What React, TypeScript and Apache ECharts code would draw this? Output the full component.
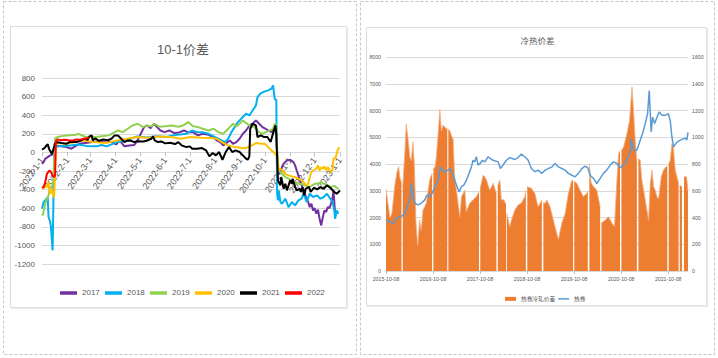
import React, { useEffect, useRef } from 'react';
import * as echarts from 'echarts';

// ---------- Left chart: 10-1价差 (dates of 2022, "M-D" or full "YYYY-M-D") ----------
const seriesNames = ['2017', '2018', '2019', '2020', '2021', '2022'];
const seriesColors = ['#7030A0', '#00B0F0', '#92D050', '#FFC000', '#000000', '#FF0000'];
const yTicksLeft = { min: -1200, max: 800, step: 200 };

const s2017: [string, number][] = [['1-1',-122],['1-3',-104],['1-5',-68],['1-8',-50],['1-11',-32],['1-15',-20],['1-17',75],['1-24',65],['1-31',57],['2-6',40],['2-16',93],['3-4',111],['3-21',129],['3-27',111],['4-2',86],['4-6',129],['4-12',65],['4-18',75],['4-24',80],['4-28',129],['5-2',201],['5-6',272],['5-10',290],['5-14',260],['5-18',308],['5-22',272],['5-26',236],['5-31',218],['6-6',236],['6-12',208],['6-18',215],['6-24',236],['6-28',218],['7-5',218],['7-11',183],['7-17',200],['7-24',190],['7-30',165],['8-3',129],['8-7',111],['8-11',75],['8-15',100],['8-19',129],['8-23',93],['8-27',111],['8-31',147],['9-4',200],['9-8',236],['9-12',290],['9-16',308],['9-20',344],['9-24',308],['9-28',272],['10-2',254],['10-5',236],['10-9',218],['10-13',254],['10-15',183],['10-17',-194],['10-18',-230],['10-20',-211],['10-22',-158],['10-24',-122],['10-28',-86],['11-1',-79],['11-5',-104],['11-7',-140],['11-9',-194],['11-11',-247],['11-13',-301],['11-15',-355],['11-17',-391],['11-19',-444],['11-21',-498],['11-23',-534],['11-25',-588],['11-27',-552],['11-29',-624],['12-1',-600],['12-3',-659],['12-5',-615],['12-7',-713],['12-9',-785],['12-11',-695],['12-13',-624],['12-15',-640],['12-17',-588],['12-19',-600],['12-21',-552],['12-23',-480],['12-24',-408],['12-26',-659]];
const s2018: [string, number][] = [['1-1',-605],['1-3',-534],['1-5',-516],['1-8',-480],['1-9',-695],['1-11',-749],['1-12',-803],['1-14',-1053],['1-16',40],['1-19',60],['1-24',70],['1-31',68],['2-9',80],['2-15',86],['2-24',70],['3-9',65],['3-15',80],['3-21',65],['4-3',111],['4-15',129],['4-27',172],['5-10',160],['5-20',175],['6-3',165],['6-10',183],['6-27',201],['7-4',236],['7-10',218],['7-16',218],['7-24',200],['8-1',165],['8-9',129],['8-13',111],['8-17',147],['8-21',218],['8-25',272],['8-29',326],['9-4',380],['9-8',416],['9-12',398],['9-16',451],['9-20',505],['9-22',595],['9-26',638],['10-2',659],['10-5',667],['10-9',685],['10-11',720],['10-13',577],['10-15',560],['10-16',-444],['10-17',-516],['10-18',-408],['10-20',-534],['10-22',-552],['10-26',-498],['10-30',-588],['11-3',-534],['11-7',-570],['11-11',-516],['11-15',-498],['11-17',-444],['11-19',-480],['11-21',-534],['11-25',-444],['11-29',-480],['12-4',-462],['12-8',-498],['12-12',-480],['12-16',-444],['12-20',-498],['12-23',-534],['12-25',-624],['12-26',-713],['12-28',-624],['12-30',-659]];
const s2019: [string, number][] = [['1-1',-659],['1-2',-677],['1-5',-552],['1-9',-462],['1-10',-408],['1-13',-391],['1-15',-283],['1-17',150],['1-20',165],['1-31',183],['2-12',190],['2-14',200],['2-24',165],['3-8',165],['3-24',183],['4-4',237],['4-10',218],['4-16',254],['4-22',290],['4-28',308],['5-5',272],['5-9',290],['5-15',280],['5-19',308],['5-25',275],['6-1',280],['6-9',290],['6-17',275],['6-23',290],['6-29',326],['7-5',280],['7-11',272],['7-17',254],['7-24',236],['7-30',254],['8-5',218],['8-11',201],['8-15',236],['8-19',272],['8-23',308],['8-27',280],['8-31',308],['9-4',344],['9-8',315],['9-12',290],['9-18',272],['9-24',218],['9-28',200],['10-2',218],['10-7',236],['10-11',254],['10-13',308],['10-15',290],['10-17',-211],['10-18',-194],['10-22',-230],['10-26',-265],['10-30',-283],['11-3',-301],['11-7',-319],['11-11',-337],['11-15',-340],['11-19',-355],['11-23',-373],['11-27',-360],['12-1',-337],['12-5',-335],['12-9',-319],['12-13',-340],['12-17',-355],['12-21',-373],['12-25',-360],['12-30',-391]];
const s2020: [string, number][] = [['1-1',-373],['1-3',-391],['1-5',-355],['1-7',-373],['1-9',-319],['1-11',-444],['1-13',-391],['1-15',-480],['1-16',-462],['1-18',100],['1-31',93],['2-21',129],['3-4',111],['3-21',100],['4-3',129],['4-15',147],['4-27',165],['5-11',158],['5-22',172],['6-8',165],['6-20',147],['7-2',165],['7-15',158],['7-27',155],['8-3',147],['8-9',111],['8-17',75],['8-25',57],['9-1',50],['9-7',45],['9-14',70],['9-20',100],['9-26',93],['10-1',93],['10-5',57],['10-9',22],['10-13',-7],['10-15',-32],['10-17',-86],['10-18',-194],['10-19',-176],['10-23',-194],['10-26',-230],['10-30',-247],['11-3',-258],['11-7',-265],['11-11',-283],['11-15',-301],['11-17',-319],['11-19',-337],['11-21',-355],['11-23',-340],['11-25',-265],['11-27',-211],['11-29',-194],['12-3',-176],['12-5',-140],['12-7',-194],['12-9',-158],['12-11',-175],['12-13',-150],['12-15',-194],['12-17',-158],['12-19',-190],['12-21',-211],['12-23',-180],['12-24',-68],['12-27',-50],['12-29',22],['12-31',57]];
const s2021: [string, number][] = [['1-1',30],['1-4',45],['1-7',80],['1-8',86],['1-10',30],['1-13',-15],['1-14',5],['1-17',97],['1-20',110],['1-25',100],['1-31',93],['2-5',115],['2-12',111],['2-17',125],['2-22',147],['2-26',135],['2-28',172],['3-3',183],['3-4',129],['3-7',150],['3-12',125],['3-17',140],['3-22',130],['3-27',147],['3-31',183],['4-4',183],['4-8',147],['4-12',111],['4-16',129],['4-20',125],['4-24',111],['4-28',120],['5-5',118],['5-9',125],['5-15',147],['5-17',172],['5-19',129],['5-23',111],['5-27',118],['6-1',97],['6-7',104],['6-13',90],['6-17',111],['6-21',75],['6-27',57],['7-1',65],['7-4',40],['7-10',40],['7-16',47],['7-21',22],['7-25',-43],['7-29',-7],['8-2',-32],['8-6',4],['8-10',-79],['8-14',4],['8-18',57],['8-22',4],['8-26',22],['8-31',4],['9-4',-32],['9-8',-68],['9-10',-79],['9-12',-43],['9-13',254],['9-16',308],['9-20',290],['9-22',165],['9-26',183],['9-30',165],['10-4',165],['10-8',111],['10-12',237],['10-14',290],['10-15',200],['10-17',-301],['10-18',-319],['10-20',-355],['10-21',-265],['10-24',-391],['10-26',-337],['10-28',-408],['10-30',-355],['11-1',-301],['11-3',-337],['11-4',-283],['11-7',-370],['11-9',-408],['11-13',-391],['11-14',-426],['11-16',-373],['11-18',-462],['11-20',-391],['11-24',-370],['11-26',-426],['11-30',-380],['12-4',-398],['12-8',-373],['12-12',-391],['12-16',-355],['12-20',-380],['12-25',-426],['12-28',-444],['2023-1-1',-410]];
const s2022: [string, number][] = [['1-1',-380],['1-3',-373],['1-5',-320],['1-7',-230],['1-10',-195],['1-12',-210],['1-14',-250],['1-16',-265],['1-17',-250],['1-18',120],['1-20',140],['1-24',130],['1-28',135],['2-3',130],['2-8',128],['2-12',140],['2-16',135],['2-20',145],['2-24',150],['2-28',160]];
const leftSeriesData = [s2017, s2018, s2019, s2020, s2021, s2022];

// ---------- Right chart: 冷热价差 ----------
const rightSeriesNames = ['热卷冷轧价差', '热卷'];
const rightColors = ['#ED7D31', '#5B9BD5'];
const xStartDate = '2015-10-08';
const xEndDate = '2022-03-10';
const yearTickLabels = ['2015-10-08', '2016-10-08', '2017-10-08', '2018-10-08', '2019-10-08', '2020-10-08', '2021-10-08'];

// spread (right axis, 0-1600); null = no trading (holiday gap)
const spreadData: [string, number | null][] = [['2015-10-08',612],['2015-10-23',508],['2015-11-08',396],['2015-11-23',432],['2015-12-14',630],['2016-01-01',740],['2016-01-14',780],['2016-01-24',700],['2016-02-05',660],['2016-02-10',null],['2016-02-15',630],['2016-03-03',900],['2016-03-13',1100],['2016-03-26',998],['2016-04-11',850],['2016-04-21',826],['2016-05-04',966],['2016-05-16',778],['2016-05-28',358],['2016-06-10',190],['2016-06-25',380],['2016-07-08',304],['2016-07-21',454],['2016-08-16',508],['2016-09-11',680],['2016-09-30',730],['2016-10-04',null],['2016-10-10',760],['2016-10-23',780],['2016-11-02',854],['2016-11-16',1028],['2016-11-29',1208],['2016-12-11',1048],['2016-12-24',1090],['2017-01-07',1076],['2017-01-19',1062],['2017-01-26',1070],['2017-01-30',null],['2017-02-03',1060],['2017-02-15',1048],['2017-02-27',1012],['2017-03-12',986],['2017-03-25',680],['2017-04-07',604],['2017-05-03',406],['2017-05-16',556],['2017-06-11',604],['2017-06-23',444],['2017-07-20',508],['2017-08-14',532],['2017-09-09',556],['2017-09-22',580],['2017-09-29',590],['2017-10-04',null],['2017-10-09',620],['2017-10-31',716],['2017-11-13',704],['2017-11-26',680],['2017-12-22',604],['2018-01-17',656],['2018-02-11',580],['2018-02-18',null],['2018-02-22',640],['2018-03-10',680],['2018-03-22',532],['2018-04-10',532],['2018-04-27',500],['2018-05-01',null],['2018-05-03',432],['2018-05-26',332],['2018-06-08',380],['2018-07-04',456],['2018-07-30',494],['2018-08-24',508],['2018-09-20',556],['2018-09-28',604],['2018-10-04',null],['2018-10-09',630],['2018-11-10',618],['2018-12-07',580],['2019-01-01',480],['2019-01-30',530],['2019-02-06',null],['2019-02-11',510],['2019-02-25',506],['2019-03-10',530],['2019-04-04',480],['2019-04-30',380],['2019-05-26',280],['2019-06-08',236],['2019-07-04',358],['2019-07-30',430],['2019-08-24',580],['2019-09-20',680],['2019-09-30',670],['2019-10-04',null],['2019-10-09',670],['2019-10-29',656],['2019-11-23',604],['2019-12-19',556],['2020-01-14',580],['2020-01-22',600],['2020-01-28',null],['2020-02-03',804],['2020-02-17',660],['2020-03-06',630],['2020-04-01',604],['2020-04-27',480],['2020-05-02',null],['2020-05-07',360],['2020-06-05',380],['2020-06-30',406],['2020-07-27',358],['2020-08-16',332],['2020-09-04',680],['2020-09-17',878],['2020-09-28',900],['2020-10-04',null],['2020-10-09',900],['2020-10-26',928],['2020-11-21',1028],['2020-12-11',1126],['2020-12-30',1376],['2021-01-11',1202],['2021-01-24',978],['2021-02-06',828],['2021-02-13',null],['2021-02-18',840],['2021-03-04',828],['2021-03-17',680],['2021-04-12',532],['2021-05-08',380],['2021-05-21',656],['2021-06-03',754],['2021-06-16',630],['2021-06-29',604],['2021-07-12',556],['2021-07-25',540],['2021-08-14',704],['2021-09-01',754],['2021-09-20',780],['2021-09-30',780],['2021-10-04',null],['2021-10-11',800],['2021-10-23',828],['2021-11-05',952],['2021-11-16',928],['2021-12-01',754],['2021-12-27',656],['2022-01-02',null],['2022-01-05',640],['2022-01-22',630],['2022-02-03',null],['2022-02-07',704],['2022-02-27',704],['2022-03-10',600]];

// hot-rolled coil price (left axis, 0-8000)
const hrcData: [string, number][] = [['2015-10-08',1900],['2015-10-31',1850],['2015-12-01',1770],['2015-12-27',1970],['2016-01-22',2030],['2016-02-09',2060],['2016-03-01',2150],['2016-03-19',2400],['2016-04-09',2650],['2016-04-21',3270],['2016-04-29',3020],['2016-05-18',2530],['2016-06-12',2470],['2016-07-08',2530],['2016-08-03',2650],['2016-08-21',2840],['2016-09-11',2780],['2016-09-30',2900],['2016-10-21',3150],['2016-11-16',3400],['2016-12-03',3890],['2016-12-19',3770],['2017-01-07',3710],['2017-02-01',3770],['2017-02-15',3830],['2017-02-27',3710],['2017-03-17',3520],['2017-04-07',3210],['2017-04-28',2960],['2017-05-16',3150],['2017-06-03',3210],['2017-06-24',3400],['2017-07-14',3650],['2017-08-01',3890],['2017-08-14',4140],['2017-08-27',4080],['2017-09-09',4270],['2017-09-22',3960],['2017-10-08',4020],['2017-10-26',4140],['2017-11-13',4080],['2017-12-09',4270],['2017-12-27',4200],['2018-01-17',4140],['2018-02-25',4080],['2018-03-14',3830],['2018-04-04',3960],['2018-04-30',4140],['2018-05-26',4240],['2018-07-04',4170],['2018-07-30',4240],['2018-08-24',4370],['2018-09-20',4270],['2018-10-16',4140],['2018-11-10',3830],['2018-12-07',3710],['2019-01-01',3770],['2019-01-30',3650],['2019-02-25',3770],['2019-03-22',3830],['2019-04-18',3890],['2019-05-13',4020],['2019-06-08',3890],['2019-07-04',3830],['2019-07-30',3770],['2019-08-24',3650],['2019-09-20',3580],['2019-10-16',3520],['2019-11-10',3650],['2019-12-07',3830],['2020-01-01',3920],['2020-01-22',3860],['2020-02-09',3580],['2020-03-06',3460],['2020-04-01',3270],['2020-04-27',3460],['2020-05-22',3650],['2020-06-17',3770],['2020-07-14',3960],['2020-08-08',4080],['2020-09-04',4020],['2020-09-30',3860],['2020-10-26',3960],['2020-11-21',4140],['2020-12-17',4450],['2020-12-24',4950],['2021-01-04',4640],['2021-01-19',4510],['2021-02-06',4510],['2021-03-04',4890],['2021-03-22',5140],['2021-04-12',5510],['2021-04-30',5880],['2021-05-13',6750],['2021-05-28',5200],['2021-06-08',5750],['2021-06-24',5510],['2021-07-12',5750],['2021-07-30',5940],['2021-08-20',5820],['2021-09-15',5820],['2021-10-08',5880],['2021-10-23',5630],['2021-11-05',5010],['2021-11-18',4640],['2021-12-14',4820],['2022-01-09',4890],['2022-02-04',4950],['2022-02-19',4950],['2022-03-01',4900],['2022-03-10',5180]];

// ---------- helpers ----------
const FONT = "'Liberation Sans', 'Noto Sans CJK SC', sans-serif";
const GRAY_TEXT = '#595959';
const GRID_LINE = '#d9d9d9';
const DAY = 86400000;

const dayCategories: string[] = (() => {
  const out: string[] = [];
  const start = Date.UTC(2022, 0, 1);
  const end = Date.UTC(2023, 0, 1);
  for (let t = start; t <= end; t += DAY) {
    const d = new Date(t);
    out.push(`${d.getUTCFullYear()}-${d.getUTCMonth() + 1}-${d.getUTCDate()}`);
  }
  return out;
})();
const catIndex = new Map(dayCategories.map((c, i) => [c, i] as [string, number]));
const fullDate = (d: string) => (d.split('-').length === 3 ? d : '2022-' + d);
const isMonthStart = (_i: number, value: string) => value.split('-')[2] === '1';

const utc = (s: string) => {
  const [y, m, d] = s.split('-').map(Number);
  return Date.UTC(y, m - 1, d);
};
const toYears = (s: string) => (utc(s) - utc(xStartDate)) / (365.25 * DAY);

const LEFT_GRID = { left: 42, top: 78, width: 298, height: 186 };
const zeroOffset = -LEFT_GRID.height * (0 - yTicksLeft.min) / (yTicksLeft.max - yTicksLeft.min);
const THIN_LINE_ICON = 'path://M0,0H22V3H0Z';

function buildOption(): any {
  const leftSeries = leftSeriesData.map((arr, i) => ({
    name: seriesNames[i],
    type: 'line',
    xAxisIndex: 0,
    yAxisIndex: 0,
    symbol: 'none',
    lineStyle: { width: 2, color: seriesColors[i] },
    itemStyle: { color: seriesColors[i] },
    z: 2 + i * 0.1,
    data: arr.map(([d, v]) => [catIndex.get(fullDate(d)), v]),
  }));

  return {
    animation: false,
    textStyle: { fontFamily: FONT },
    graphic: [
      { type: 'rect', shape: { x: 3.5, y: 1.5, width: 353, height: 353 }, style: { fill: 'none', stroke: '#c6c6c6', lineWidth: 1, lineDash: [3, 2] }, z: -1 },
      { type: 'rect', shape: { x: 360.5, y: 1.5, width: 354, height: 353 }, style: { fill: 'none', stroke: '#c6c6c6', lineWidth: 1, lineDash: [3, 2] }, z: -1 },
      { type: 'rect', shape: { x: 10.5, y: 26.5, width: 336, height: 281 }, style: { fill: 'none', stroke: '#dcdcdc', lineWidth: 1 }, z: -1 },
      { type: 'line', shape: { x1: 11, y1: 308.5, x2: 348, y2: 308.5 }, style: { stroke: '#ececec', lineWidth: 1.5 }, z: -1 },
      { type: 'line', shape: { x1: 347.5, y1: 27, x2: 347.5, y2: 309 }, style: { stroke: '#ececec', lineWidth: 1.5 }, z: -1 },
      { type: 'rect', shape: { x: 366.5, y: 27.5, width: 340, height: 278 }, style: { fill: 'none', stroke: '#dcdcdc', lineWidth: 1 }, z: -1 },
      { type: 'line', shape: { x1: 367, y1: 306.5, x2: 708, y2: 306.5 }, style: { stroke: '#ececec', lineWidth: 1.5 }, z: -1 },
      { type: 'line', shape: { x1: 707.5, y1: 28, x2: 707.5, y2: 307 }, style: { stroke: '#ececec', lineWidth: 1.5 }, z: -1 },
      { type: 'text', x: 183, y: 49, style: { text: '10-1价差', font: `13px ${FONT}`, fill: GRAY_TEXT, align: 'center', verticalAlign: 'middle' } },
      { type: 'text', x: 537.5, y: 41, style: { text: '冷热价差', font: `8.5px ${FONT}`, fill: GRAY_TEXT, align: 'center', verticalAlign: 'middle' } },
    ],
    grid: [
      LEFT_GRID,
      { left: 386, top: 57, width: 302, height: 214 },
    ],
    xAxis: [
      {
        gridIndex: 0,
        type: 'category',
        data: dayCategories,
        boundaryGap: false,
        offset: zeroOffset,
        axisLine: { onZero: false, lineStyle: { color: GRID_LINE, width: 1 } },
        axisTick: { show: true, interval: isMonthStart, length: 4, lineStyle: { color: '#bfbfbf' } },
        axisLabel: { interval: isMonthStart, rotate: 55, fontSize: 9, color: GRAY_TEXT, margin: 6 },
        splitLine: { show: false },
      },
      {
        gridIndex: 1,
        type: 'value',
        min: 0,
        max: toYears(xEndDate),
        interval: 1,
        axisLine: { onZero: false, lineStyle: { color: GRID_LINE } },
        axisTick: { show: true, length: 3, lineStyle: { color: '#bfbfbf' } },
        axisLabel: {
          showMaxLabel: false,
          showMinLabel: true,
          hideOverlap: false,
          fontSize: 5.2,
          color: GRAY_TEXT,
          margin: 5,
          formatter: (v: number) => {
            const k = Math.round(v);
            return Math.abs(v - k) < 0.05 && yearTickLabels[k] ? yearTickLabels[k] : '';
          },
        },
        splitLine: { show: false },
      },
    ],
    yAxis: [
      {
        gridIndex: 0,
        type: 'value',
        min: yTicksLeft.min,
        max: yTicksLeft.max,
        interval: yTicksLeft.step,
        axisLine: { show: false },
        axisTick: { show: false },
        axisLabel: { fontSize: 8, color: GRAY_TEXT, margin: 7, formatter: (v: number) => String(v) },
        splitLine: { lineStyle: { color: GRID_LINE, width: 1 } },
      },
      {
        gridIndex: 1,
        type: 'value',
        min: 0,
        max: 8000,
        interval: 1000,
        axisLine: { show: false },
        axisTick: { show: false },
        axisLabel: { fontSize: 5.2, color: GRAY_TEXT, margin: 5, formatter: (v: number) => String(v) },
        splitLine: { lineStyle: { color: GRID_LINE, width: 1 } },
      },
      {
        gridIndex: 1,
        type: 'value',
        position: 'right',
        min: 0,
        max: 1600,
        interval: 200,
        axisLine: { show: false },
        axisTick: { show: false },
        axisLabel: { fontSize: 5.2, color: GRAY_TEXT, margin: 4, formatter: (v: number) => String(v) },
        splitLine: { show: false },
      },
    ],
    legend: [
      {
        data: seriesNames.map((n) => ({ name: n, icon: 'rect' })),
        left: 55,
        top: 284,
        itemWidth: 17,
        itemHeight: 3.5,
        itemGap: 5.2,
        textStyle: { fontSize: 8, color: GRAY_TEXT, fontFamily: FONT },
      },
      {
        data: [
          { name: rightSeriesNames[0], icon: 'rect' },
          { name: rightSeriesNames[1], icon: THIN_LINE_ICON },
        ],
        left: 500,
        top: 291,
        itemWidth: 11,
        itemHeight: 4,
        itemGap: 3,
        textStyle: { fontSize: 5.7, color: GRAY_TEXT, fontFamily: FONT },
      },
    ],
    series: [
      ...leftSeries,
      {
        name: rightSeriesNames[0],
        type: 'line',
        xAxisIndex: 1,
        yAxisIndex: 2,
        symbol: 'none',
        connectNulls: false,
        lineStyle: { width: 0.8, color: '#F4B183' },
        areaStyle: { color: rightColors[0], opacity: 1 },
        itemStyle: { color: rightColors[0] },
        z: 2,
        data: spreadData.map(([d, v]) => [toYears(d), v == null ? '-' : v]),
      },
      {
        name: rightSeriesNames[1],
        type: 'line',
        xAxisIndex: 1,
        yAxisIndex: 1,
        symbol: 'none',
        lineStyle: { width: 1.5, color: rightColors[1] },
        itemStyle: { color: rightColors[1] },
        z: 3,
        data: hrcData.map(([d, v]) => [toYears(d), v]),
      },
    ],
  };
}

export default function App() {
  const ref = useRef<HTMLDivElement>(null);
  useEffect(() => {
    if (!ref.current) return;
    const chart = echarts.init(ref.current, null, { renderer: 'svg' });
    chart.setOption(buildOption());
    return () => chart.dispose();
  }, []);
  return (
    <div
      ref={ref}
      style={{ position: 'absolute', left: 0, top: 0, width: 718, height: 358, background: '#ffffff' }}
    />
  );
}
